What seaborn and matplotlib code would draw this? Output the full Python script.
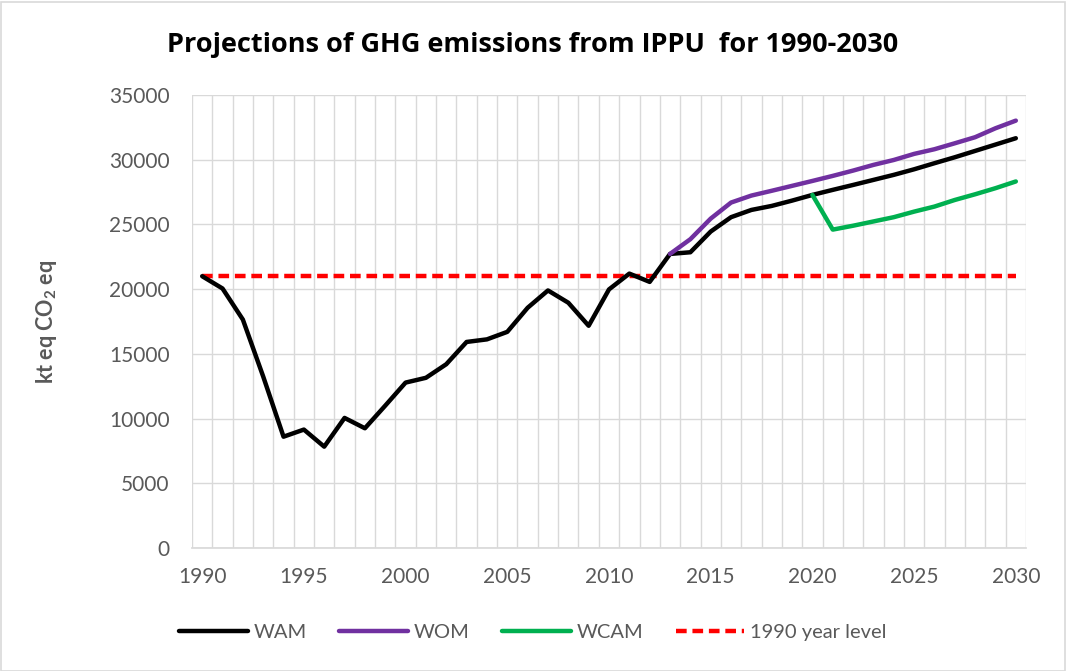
import numpy as np
import pandas as pd
import matplotlib
matplotlib.use("Agg")
import matplotlib.pyplot as plt
import seaborn as sns
from matplotlib.patches import Rectangle

# ---- data ----
years = list(range(1990, 2031))
wam = [21000, 20050, 17650, 13250, 8600, 9150, 7830, 10050, 9250, 11000,
       12780, 13150, 14200, 15920, 16120, 16700, 18560, 19900, 18950, 17170,
       19980, 21200, 20560, 22720, 22850, 24450, 25560, 26120, 26430, 26840,
       27280, 27670, 28050, 28440, 28830, 29260, 29730, 30190, 30680, 31170,
       31660]
wom_years = list(range(2013, 2031))
wom = [22720, 23860, 25450, 26690, 27230, 27600, 27980, 28360, 28750, 29160,
       29600, 29980, 30450, 30810, 31270, 31740, 32430, 33020]
wcam_years = list(range(2020, 2031))
wcam = [27280, 24600, 24900, 25230, 25560, 25990, 26380, 26890, 27330, 27800,
        28320]
level_1990 = 21000
series_names = ["WAM", "WOM", "WCAM", "1990 year level"]
yticks = [0, 5000, 10000, 15000, 20000, 25000, 30000, 35000]
xticks = [1990, 1995, 2000, 2005, 2010, 2015, 2020, 2025, 2030]
title = "Projections of GHG emissions from IPPU  for 1990-2030"

df = pd.concat([
    pd.DataFrame({"year": years, "value": wam, "series": "WAM"}),
    pd.DataFrame({"year": wom_years, "value": wom, "series": "WOM"}),
    pd.DataFrame({"year": wcam_years, "value": wcam, "series": "WCAM"}),
    pd.DataFrame({"year": years, "value": [level_1990] * len(years),
                  "series": "1990 year level"}),
])

sns.set_theme(style="white")
plt.rcParams["font.family"] = ["Lato", "DejaVu Sans"]
plt.rcParams["mathtext.fontset"] = "custom"
plt.rcParams["mathtext.rm"] = "Lato:bold"
plt.rcParams["mathtext.default"] = "rm"

W, H = 1066, 671
fig = plt.figure(figsize=(W / 100, H / 100), dpi=100)
ax = fig.add_axes([192 / W, 1 - 548 / H, (1026 - 192) / W, (548 - 95) / H])

palette = {"WAM": "#000000", "WOM": "#7030A0", "WCAM": "#00B050",
           "1990 year level": "#FF0000"}
for name in series_names[:3]:
    sub = df[df.series == name]
    sns.lineplot(data=sub, x="year", y="value", ax=ax, color=palette[name],
                 lw=3.2, label=name, zorder=3)
sub = df[df.series == "1990 year level"]
sns.lineplot(data=sub, x="year", y="value", ax=ax, color=palette["1990 year level"],
             lw=3.2, label="1990 year level", zorder=2, dashes=False)
ax.lines[-1].set_dashes((2.4, 1.3))

ax.set_xlim(1989.5, 2030.5)
ax.set_ylim(0, 35000)
ax.set_yticks(yticks)
ax.set_xticks(xticks)
ax.set_xticks(np.arange(1989.5, 2031, 1), minor=True)
ax.grid(False)
ax.grid(True, which="minor", axis="x", color="#d9d9d9", lw=1)
ax.grid(True, which="major", axis="y", color="#d9d9d9", lw=1)
ax.set_axisbelow(True)
for s in ax.spines.values():
    s.set_visible(False)
ax.spines["bottom"].set_visible(True)
ax.spines["bottom"].set_color("#d9d9d9")
ax.tick_params(axis="both", which="both", length=0, labelsize=15,
               labelcolor="#595959")
ax.tick_params(axis="y", pad=16)
ax.tick_params(axis="x", pad=14)
ax.set_xlabel("")
ax.set_ylabel(r"kt eq CO$_2$ eq", fontsize=15.5, fontweight="bold",
              color="#595959", labelpad=36)

fig.text(533 / W, 1 - 45 / H, title, ha="center", va="center",
         fontsize=19.5, fontweight="bold", color="#000000",
         family=["Open Sans", "DejaVu Sans"])

handles, labels = ax.get_legend_handles_labels()
leg = ax.legend(handles, labels, loc="center", bbox_to_anchor=(0.5, 1 - 632 / H),
                bbox_transform=fig.transFigure, ncol=4, frameon=False,
                fontsize=14.5, handlelength=3.4, handletextpad=0.3,
                columnspacing=1.6)
for t in leg.get_texts():
    t.set_color("#595959")

fig.patches.append(Rectangle((0.5 / W, 0.5 / H), 1 - 2 / W, 1 - 2 / H,
                             transform=fig.transFigure, fill=False,
                             edgecolor="#d9d9d9", lw=1.2))

fig.savefig("out.png", dpi=100, facecolor="white")
